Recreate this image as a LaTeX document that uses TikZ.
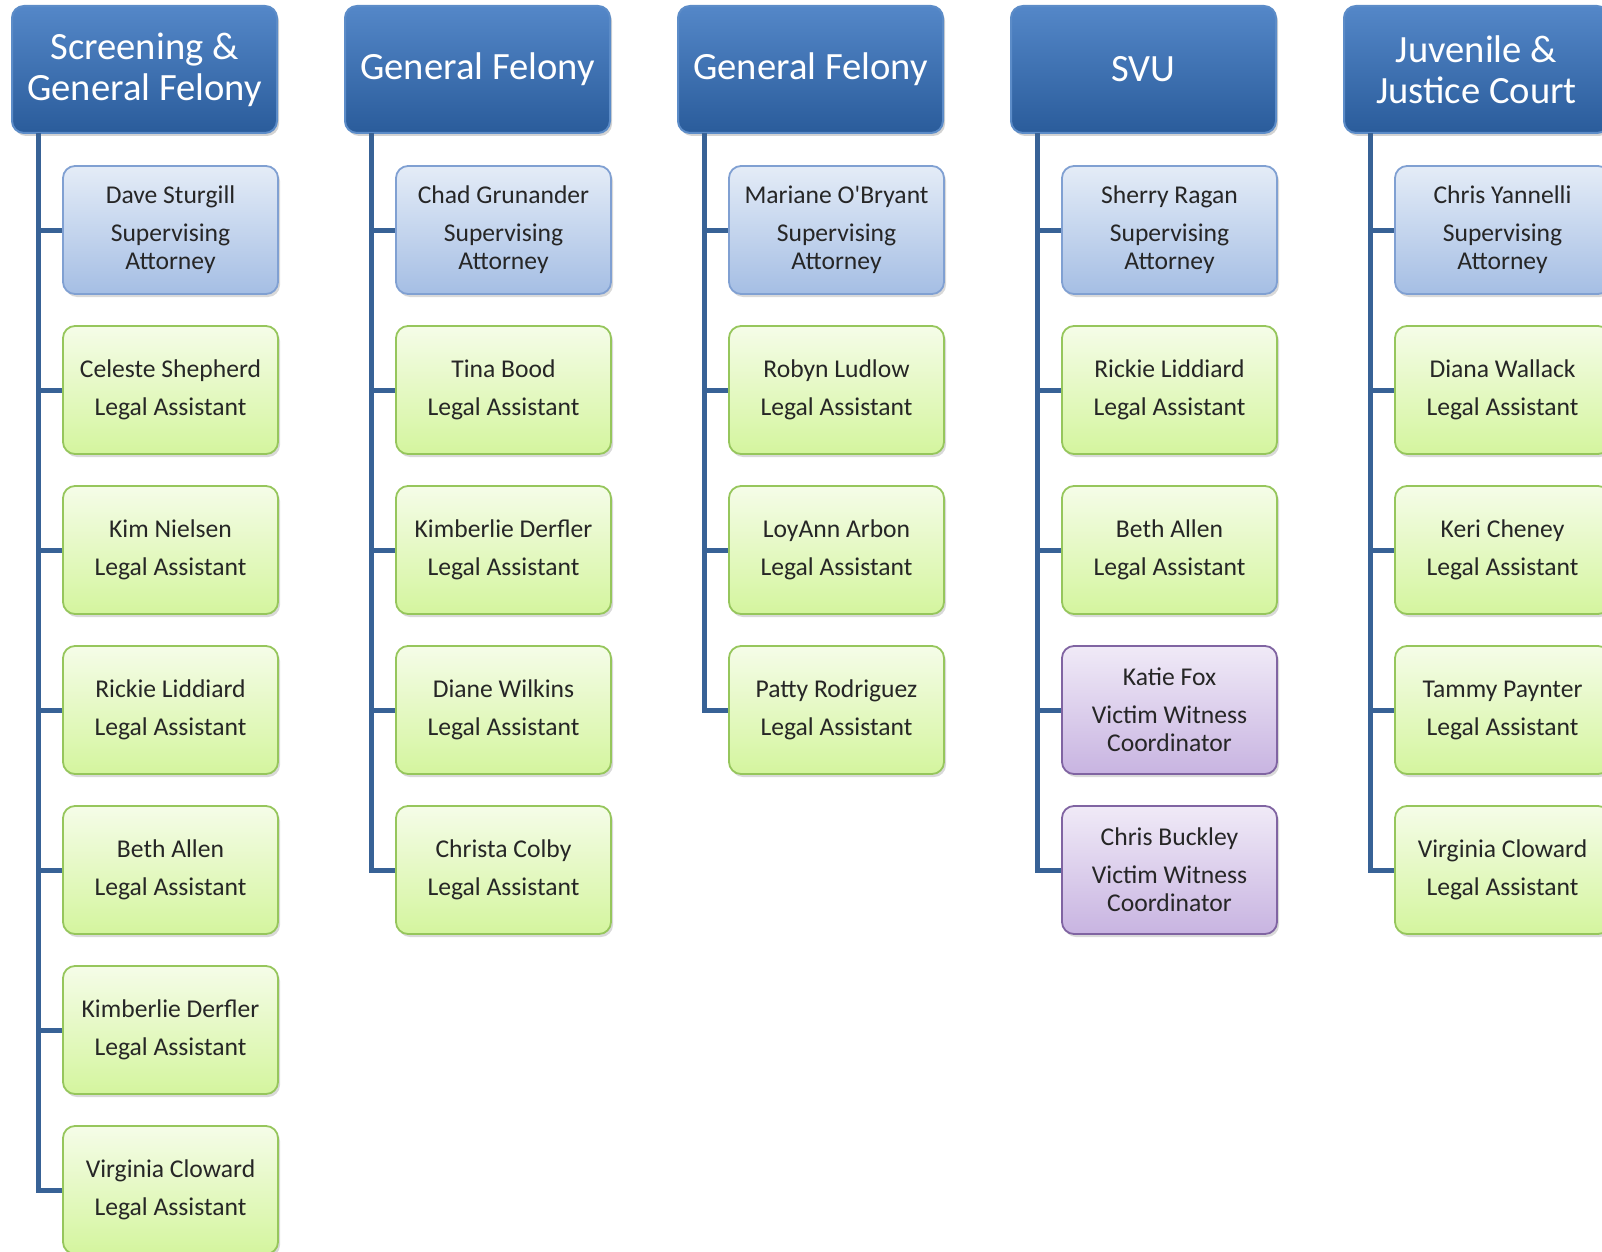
\documentclass[tikz,border=0pt]{standalone}
\usepackage{fontspec}
\setmainfont{Carlito}
\usetikzlibrary{shadows}

\definecolor{headtop}{RGB}{84,135,200}
\definecolor{headbot}{RGB}{42,92,155}
\definecolor{headrim}{RGB}{92,140,200}
\definecolor{suptop}{RGB}{228,236,247}
\definecolor{supbot}{RGB}{165,190,228}
\definecolor{suprim}{RGB}{128,160,210}
\definecolor{legtop}{RGB}{245,252,232}
\definecolor{legbot}{RGB}{212,245,158}
\definecolor{legrim}{RGB}{150,198,92}
\definecolor{vwctop}{RGB}{240,234,247}
\definecolor{vwcbot}{RGB}{200,180,225}
\definecolor{vwcrim}{RGB}{128,100,162}
\definecolor{linkblue}{RGB}{56,98,150}

\tikzset{
  head/.style={rounded corners=6pt, top color=headtop, bottom color=headbot,
    draw=headrim, line width=1pt, minimum width=132.5pt, minimum height=63.5pt,
    text=white, align=center, font=\fontsize{19.3}{20.5}\selectfont,
    drop shadow={opacity=0.35, shadow xshift=1pt, shadow yshift=-1.5pt}},
  card/.style={rounded corners=6pt, line width=0.9pt, minimum width=107.5pt,
    minimum height=64pt, align=center, text=black!85,
    font=\fontsize{12.8}{14}\selectfont,
    drop shadow={opacity=0.3, shadow xshift=1pt, shadow yshift=-1.5pt}},
  super/.style={card, top color=suptop, bottom color=supbot, draw=suprim},
  legal/.style={card, top color=legtop, bottom color=legbot, draw=legrim},
  vwc/.style={card, top color=vwctop, bottom color=vwcbot, draw=vwcrim},
  branch/.style={draw=linkblue, line width=2.5pt}
}

\begin{document}
\begin{tikzpicture}[x=0.5pt, y=-0.5pt]
\useasboundingbox (0,0) rectangle (1602,1252);
\clip (0,0) rectangle (1602,1252);

% Screening & General Felony
\node[head] (h1) at (144.5,69.5) {Screening \&\\General Felony};
\node[super] (c11) at (170.5,230) {Dave Sturgill\\[5pt]Supervising\\Attorney};
\node[legal] (c12) at (170.5,390) {Celeste Shepherd\\[5pt]Legal Assistant};
\node[legal] (c13) at (170.5,550) {Kim Nielsen\\[5pt]Legal Assistant};
\node[legal] (c14) at (170.5,710) {Rickie Liddiard\\[5pt]Legal Assistant};
\node[legal] (c15) at (170.5,870) {Beth Allen\\[5pt]Legal Assistant};
\node[legal] (c16) at (170.5,1030) {Kimberlie Derfler\\[5pt]Legal Assistant};
\node[legal] (c17) at (170.5,1190) {Virginia Cloward\\[5pt]Legal Assistant};
\coordinate (t1) at (38,133);
\draw[branch] (t1) |- (c17.west);
\foreach \k in {1,...,6} \draw[branch] (t1 |- c1\k.west) -- (c1\k.west);

% General Felony
\node[head] (h2) at (477.5,69.5) {General Felony};
\node[super] (c21) at (503.5,230) {Chad Grunander\\[5pt]Supervising\\Attorney};
\node[legal] (c22) at (503.5,390) {Tina Bood\\[5pt]Legal Assistant};
\node[legal] (c23) at (503.5,550) {Kimberlie Derfler\\[5pt]Legal Assistant};
\node[legal] (c24) at (503.5,710) {Diane Wilkins\\[5pt]Legal Assistant};
\node[legal] (c25) at (503.5,870) {Christa Colby\\[5pt]Legal Assistant};
\coordinate (t2) at (371,133);
\draw[branch] (t2) |- (c25.west);
\foreach \k in {1,...,4} \draw[branch] (t2 |- c2\k.west) -- (c2\k.west);

% General Felony
\node[head] (h3) at (810.5,69.5) {General Felony};
\node[super] (c31) at (836.5,230) {Mariane O\textquotesingle Bryant\\[5pt]Supervising\\Attorney};
\node[legal] (c32) at (836.5,390) {Robyn Ludlow\\[5pt]Legal Assistant};
\node[legal] (c33) at (836.5,550) {LoyAnn Arbon\\[5pt]Legal Assistant};
\node[legal] (c34) at (836.5,710) {Patty Rodriguez\\[5pt]Legal Assistant};
\coordinate (t3) at (704,133);
\draw[branch] (t3) |- (c34.west);
\foreach \k in {1,...,3} \draw[branch] (t3 |- c3\k.west) -- (c3\k.west);

% SVU
\node[head] (h4) at (1143.5,69.5) {SVU};
\node[super] (c41) at (1169.5,230) {Sherry Ragan\\[5pt]Supervising\\Attorney};
\node[legal] (c42) at (1169.5,390) {Rickie Liddiard\\[5pt]Legal Assistant};
\node[legal] (c43) at (1169.5,550) {Beth Allen\\[5pt]Legal Assistant};
\node[vwc] (c44) at (1169.5,710) {Katie Fox\\[5pt]Victim Witness\\Coordinator};
\node[vwc] (c45) at (1169.5,870) {Chris Buckley\\[5pt]Victim Witness\\Coordinator};
\coordinate (t4) at (1037,133);
\draw[branch] (t4) |- (c45.west);
\foreach \k in {1,...,4} \draw[branch] (t4 |- c4\k.west) -- (c4\k.west);

% Juvenile & Justice Court
\node[head] (h5) at (1476.5,69.5) {Juvenile \&\\Justice Court};
\node[super] (c51) at (1502.5,230) {Chris Yannelli\\[5pt]Supervising\\Attorney};
\node[legal] (c52) at (1502.5,390) {Diana Wallack\\[5pt]Legal Assistant};
\node[legal] (c53) at (1502.5,550) {Keri Cheney\\[5pt]Legal Assistant};
\node[legal] (c54) at (1502.5,710) {Tammy Paynter\\[5pt]Legal Assistant};
\node[legal] (c55) at (1502.5,870) {Virginia Cloward\\[5pt]Legal Assistant};
\coordinate (t5) at (1370,133);
\draw[branch] (t5) |- (c55.west);
\foreach \k in {1,...,4} \draw[branch] (t5 |- c5\k.west) -- (c5\k.west);
\end{tikzpicture}
\end{document}
